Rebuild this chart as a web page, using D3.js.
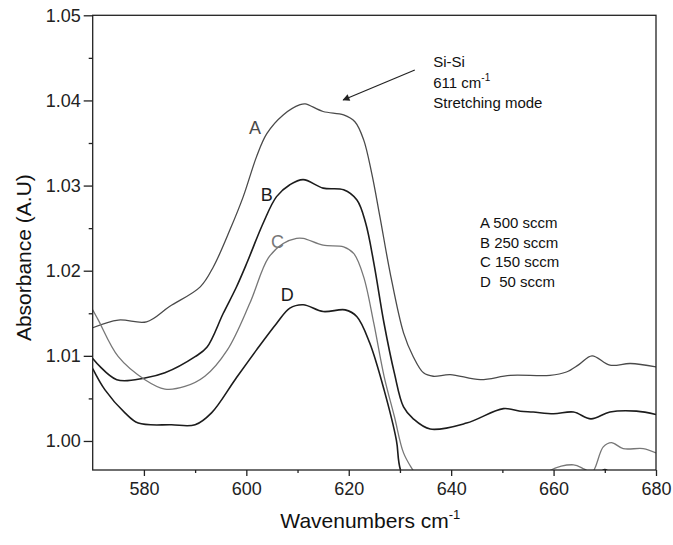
<!DOCTYPE html>
<html>
<head>
<meta charset="utf-8">
<script src="https://cdn.jsdelivr.net/npm/d3@7"></script>
<style>
  body { margin: 0; background: #fff; }
  text { font-family: "Liberation Sans", Arial, sans-serif; }
</style>
</head>
<body>
<div id="container"></div>
<script>
// values (wavenumber, absorbance)
let xA = [570, 575, 580.5, 585, 591, 593.6, 596.8, 599.4, 602, 604, 607.2, 610.5, 611.5, 615, 619, 621.2, 622.9, 624.5, 626.1, 628.1, 630.7, 632.6, 634.6, 636.5, 639.8, 645.7, 651.5, 659.3, 662.5, 665, 667.5, 671, 675, 680];
let yA = [1.0133, 1.0142, 1.0140, 1.0158, 1.0181, 1.0205, 1.0248, 1.0287, 1.0334, 1.0361, 1.0383, 1.0395, 1.0396, 1.0387, 1.0383, 1.0375, 1.0354, 1.0314, 1.0263, 1.0197, 1.0127, 1.0099, 1.0080, 1.0076, 1.0078, 1.0072, 1.0077, 1.0077, 1.0081, 1.0090, 1.0100, 1.0089, 1.0091, 1.0087];

let xB = [570, 574.7, 580.2, 584.1, 590, 592.3, 595.5, 598, 600.1, 603.3, 605.9, 608.5, 611.1, 615, 619, 621.6, 623.3, 624.9, 626.9, 628.9, 630.7, 632.6, 635.9, 643, 650.2, 653.5, 656, 660, 663.9, 667.3, 671, 676.2, 680];
let yB = [1.0097, 1.0072, 1.0074, 1.0080, 1.0099, 1.0110, 1.0150, 1.0180, 1.0209, 1.0256, 1.0287, 1.0301, 1.0307, 1.0297, 1.0295, 1.0283, 1.0256, 1.0209, 1.0138, 1.0080, 1.0040, 1.0026, 1.0014, 1.0021, 1.0038, 1.0035, 1.0034, 1.0032, 1.0034, 1.0026, 1.0034, 1.0035, 1.0031];

let xC = [570, 571.1, 575, 580.2, 584.1, 588, 591.9, 596.3, 600.7, 604.3, 607.2, 609.8, 611.1, 615, 619, 621, 622.9, 624.9, 626.9, 628.9, 630.7, 632.5, 636, 645, 655, 659, 663.9, 666, 667.5, 669.7, 671.3, 673.6, 677.5, 680];
let yC = [1.0154, 1.0142, 1.0099, 1.0072, 1.0061, 1.0064, 1.0076, 1.0107, 1.0162, 1.0215, 1.0232, 1.0238, 1.0238, 1.0230, 1.0228, 1.0220, 1.0193, 1.0138, 1.0076, 1.0029, 0.9986, 0.9966, 0.9935, 0.9925, 0.9930, 0.9964, 0.9972, 0.9967, 0.9963, 0.9993, 0.9998, 0.9991, 0.9991, 0.9986];

let xD = [570, 572.4, 576.3, 578.9, 585.4, 590, 593.2, 597.8, 602, 605.9, 608.5, 611.1, 615, 619.3, 621.6, 624.1, 626.9, 629.3, 630.1, 635, 660, 668, 670, 672];
let yD = [1.0085, 1.0060, 1.0033, 1.0021, 1.0019, 1.0019, 1.0033, 1.0072, 1.0107, 1.0138, 1.0156, 1.0160, 1.0152, 1.0154, 1.0146, 1.0115, 1.0060, 1.0001, 0.9966, 0.9900, 0.9920, 0.9955, 0.99665, 0.9955];

let seriesNames = ["A", "B", "C", "D"];
let seriesColors = ["#4a4a4a", "#1c1c1c", "#777777", "#1c1c1c"];
let seriesWidths = [1.3, 1.6, 1.3, 1.6];
// where the letter of each curve sits (wavenumber, absorbance)
let labelX = [601.7, 604.0, 606.1, 608.0];
let labelY = [1.0368, 1.0289, 1.0234, 1.0171];

let legendLines = ["A 500 sccm", "B 250 sccm", "C 150 sccm", "D  50 sccm"];

let xMajor = [580, 600, 620, 640, 660, 680];
let xMinor = [590, 610, 630, 650, 670];
let yMajor = [1.00, 1.01, 1.02, 1.03, 1.04, 1.05];
let yMinor = [1.005, 1.015, 1.025, 1.035, 1.045];

let w = 673;
let h = 545;
let padL = 92.7, padR = 656, padT = 15.3, padB = 470;

let viz = d3.select("#container")
  .append("svg")
    .attr("width", w)
    .attr("height", h)
    .style("background-color", "white");

let xScale = d3.scaleLinear().domain([570, 680]).range([padL, padR]);
let yScale = d3.scaleLinear().domain([0.99659, 1.05]).range([padB, padT]);

// clip so curves stop at the frame
viz.append("clipPath").attr("id", "plotclip")
  .append("rect")
    .attr("x", padL).attr("y", padT)
    .attr("width", padR - padL).attr("height", padB - padT);

let line = d3.line()
  .x(d => xScale(d[0]))
  .y(d => yScale(d[1]))
  .curve(d3.curveCatmullRom.alpha(0.5));

let allX = [xA, xB, xC, xD];
let allY = [yA, yB, yC, yD];

let curves = viz.append("g").attr("clip-path", "url(#plotclip)");
seriesNames.forEach(function(name, i){
  let pts = allX[i].map((x, j) => [x, allY[i][j]]);
  curves.append("path")
    .datum(pts)
    .attr("d", line)
    .attr("fill", "none")
    .attr("stroke", seriesColors[i])
    .attr("stroke-width", seriesWidths[i])
    .attr("stroke-linejoin", "round");
});

// curve letters
seriesNames.forEach(function(name, i){
  viz.append("text")
    .text(name)
    .attr("x", xScale(labelX[i]))
    .attr("y", yScale(labelY[i]))
    .attr("text-anchor", "middle")
    .attr("dominant-baseline", "central")
    .attr("font-size", 18)
    .attr("fill", seriesColors[i]);
});

// axes
viz.append("g")
  .attr("transform", "translate(0," + padB + ")")
  .call(d3.axisBottom(xScale).tickValues(xMajor).tickSize(6).tickPadding(6).tickFormat(d3.format("d")));
viz.append("g")
  .attr("transform", "translate(0," + padB + ")")
  .call(d3.axisBottom(xScale).tickValues(xMinor).tickSize(3).tickFormat(""));

viz.append("g")
  .attr("transform", "translate(" + padL + ",0)")
  .call(d3.axisLeft(yScale).tickValues(yMajor).tickSize(9).tickPadding(3).tickFormat(d3.format(".2f")));
viz.append("g")
  .attr("transform", "translate(" + padL + ",0)")
  .call(d3.axisLeft(yScale).tickValues(yMinor).tickSize(4).tickFormat(""));

viz.selectAll(".domain").remove();
viz.selectAll(".tick line").attr("stroke", "#222").attr("stroke-width", 1.3);
viz.selectAll(".tick text")
  .attr("font-size", 18)
  .attr("fill", "#222")
  .style("font-family", "'Liberation Sans', Arial, sans-serif");

// frame
viz.append("rect")
  .attr("x", padL).attr("y", padT)
  .attr("width", padR - padL).attr("height", padB - padT)
  .attr("fill", "none")
  .attr("stroke", "#222")
  .attr("stroke-width", 1.3);

// axis titles
let xTitle = viz.append("text")
  .attr("x", (padL + padR) / 2 - 4)
  .attr("y", 528)
  .attr("text-anchor", "middle")
  .attr("font-size", 21)
  .attr("fill", "#111");
xTitle.append("tspan").text("Wavenumbers cm");
xTitle.append("tspan").text("-1").attr("font-size", 13).attr("dy", -9);

viz.append("text")
  .text("Absorbance (A.U)")
  .attr("transform", "translate(31," + ((padT + padB) / 2 + 15) + ") rotate(-90)")
  .attr("text-anchor", "middle")
  .attr("font-size", 21)
  .attr("fill", "#111");

// annotation with arrow
let defs = viz.append("defs");
defs.append("marker")
  .attr("id", "arrowhead")
  .attr("viewBox", "0 0 10 10")
  .attr("refX", 9).attr("refY", 5)
  .attr("markerWidth", 9).attr("markerHeight", 7)
  .attr("markerUnits", "userSpaceOnUse")
  .attr("orient", "auto")
  .append("path")
    .attr("d", "M0,0 L10,5 L0,10 z")
    .attr("fill", "#222");

viz.append("line")
  .attr("x1", xScale(632.9)).attr("y1", yScale(1.04358))
  .attr("x2", xScale(618.9)).attr("y2", yScale(1.04005))
  .attr("stroke", "#222")
  .attr("stroke-width", 1.2)
  .attr("marker-end", "url(#arrowhead)");

let noteX = xScale(636.5);
viz.append("text").text("Si-Si")
  .attr("x", noteX).attr("y", 66.7)
  .attr("font-size", 15).attr("fill", "#111");
let note2 = viz.append("text")
  .attr("x", noteX).attr("y", 88.3)
  .attr("font-size", 15).attr("fill", "#111");
note2.append("tspan").text("611 cm");
note2.append("tspan").text("-1").attr("font-size", 10).attr("dy", -7);
viz.append("text").text("Stretching mode")
  .attr("x", noteX).attr("y", 108.3)
  .attr("font-size", 15).attr("fill", "#111");

// legend
let legend = viz.append("g").attr("class", "legend");
legendLines.forEach(function(txt, i){
  legend.append("text")
    .text(txt)
    .attr("x", 480)
    .attr("y", 228 + i * 19.5)
    .attr("font-size", 15)
    .attr("fill", "#111")
    .style("white-space", "pre");
});
</script>
</body>
</html>
